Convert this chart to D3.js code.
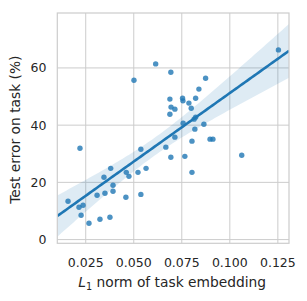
<!DOCTYPE html>
<html>
<head>
<meta charset="utf-8">
<script src="https://cdn.jsdelivr.net/npm/d3@7"></script>
<style>
  body { margin: 0; background: white; }
  svg { display: block; font-family: "DejaVu Sans", sans-serif; }
</style>
</head>
<body>
<div id="chart"></div>
<script>
// points: L1 norm of embedding vs test error (%)
const l1Norm = [
    0.0158, 0.0215, 0.0236, 0.0226, 0.0220, 0.0267, 0.0309, 0.0324, 0.0350, 0.0345,
    0.0380, 0.0392, 0.0392, 0.0376, 0.0461, 0.0475, 0.0459, 0.0501, 0.0522, 0.0537,
    0.0537, 0.0564, 0.0614, 0.0667, 0.0688, 0.0693, 0.0694, 0.0688, 0.0693, 0.0714,
    0.0714, 0.0754, 0.0756, 0.0757, 0.0766, 0.0787, 0.0799, 0.0803, 0.0803, 0.0822,
    0.0822, 0.0814, 0.0818, 0.0839, 0.0865, 0.0874, 0.0897, 0.0912, 0.1062, 0.1253
];
const testError = [
    13.4, 11.3, 12.0, 8.5, 31.9, 5.7, 15.5, 7.1, 16.2, 21.8,
    24.9, 19.0, 16.9, 7.8, 23.5, 22.1, 14.8, 55.7, 23.5, 31.6,
    15.8, 24.9, 61.4, 32.3, 49.1, 58.5, 46.3, 43.8, 28.8, 45.6,
    35.8, 49.4, 48.5, 40.7, 29.1, 47.7, 45.9, 34.4, 23.5, 49.4,
    42.8, 42.1, 38.6, 52.6, 40.3, 56.4, 35.1, 35.1, 29.5, 66.3
];
const xTicks = [0.025, 0.05, 0.075, 0.1, 0.125];
const yTicks = [0, 20, 40, 60];

const width = 307, height = 301;
const mLeft = 57.3, mRight = 289, mTop = 13, mBottom = 243.3;
const blue = "#1f77b4", grid = "#cccccc", ink = "#262626";
const tickSize = 12.5, labelSize = 13.8;

const svg = d3.select("#chart")
    .append("svg")
    .attr("width", width)
    .attr("height", height);

const x = d3.scaleLinear().domain([0.0102, 0.1308]).range([mLeft, mRight]);
const y = d3.scaleLinear().domain([-1.3, 79.2]).range([mBottom, mTop]);

// gridlines
svg.append("g")
    .selectAll("line")
    .data(xTicks)
    .join("line")
    .attr("x1", d => x(d)).attr("x2", d => x(d))
    .attr("y1", mTop).attr("y2", mBottom)
    .attr("stroke", grid).attr("stroke-width", 1);

svg.append("g")
    .selectAll("line")
    .data(yTicks)
    .join("line")
    .attr("x1", mLeft).attr("x2", mRight)
    .attr("y1", d => y(d)).attr("y2", d => y(d))
    .attr("stroke", grid).attr("stroke-width", 1);

// ordinary least squares + 95% CI of the mean
const pts = l1Norm.map((v, i) => ({x: v, y: testError[i]}));
const n = pts.length;
const mx = d3.mean(pts, d => d.x), my = d3.mean(pts, d => d.y);
const sxx = d3.sum(pts, d => (d.x - mx) ** 2);
const sxy = d3.sum(pts, d => (d.x - mx) * (d.y - my));
const slope = sxy / sxx, intercept = my - slope * mx;
const s = Math.sqrt(d3.sum(pts, d => (d.y - intercept - slope * d.x) ** 2) / (n - 2));
const tcrit = 2.01;

const [x0, x1] = x.domain();
const xs = d3.range(0, 101).map(i => x0 + i / 100 * (x1 - x0));
const fit = xs.map(v => {
    const yh = intercept + slope * v;
    const se = s * Math.sqrt(1 / n + (v - mx) ** 2 / sxx);
    return {x: v, y: yh, lo: yh - tcrit * se, hi: yh + tcrit * se};
});

svg.append("clipPath").attr("id", "clip")
    .append("rect")
    .attr("x", mLeft).attr("y", mTop)
    .attr("width", mRight - mLeft).attr("height", mBottom - mTop);

const inner = svg.append("g").attr("clip-path", "url(#clip)");

inner.append("path")
    .datum(fit)
    .attr("fill", blue)
    .attr("fill-opacity", 0.15)
    .attr("d", d3.area().x(d => x(d.x)).y0(d => y(d.lo)).y1(d => y(d.hi)));

inner.append("g")
    .selectAll("circle")
    .data(pts)
    .join("circle")
    .attr("cx", d => x(d.x))
    .attr("cy", d => y(d.y))
    .attr("r", 2.7)
    .attr("fill", blue)
    .attr("fill-opacity", 0.8);

inner.append("path")
    .datum(fit)
    .attr("fill", "none")
    .attr("stroke", blue)
    .attr("stroke-width", 2.6)
    .attr("d", d3.line().x(d => x(d.x)).y(d => y(d.y)));

// frame
svg.append("rect")
    .attr("x", mLeft).attr("y", mTop)
    .attr("width", mRight - mLeft).attr("height", mBottom - mTop)
    .attr("fill", "none")
    .attr("stroke", grid)
    .attr("stroke-width", 1.2);

// tick labels
svg.append("g")
    .selectAll("text")
    .data(xTicks)
    .join("text")
    .attr("x", d => x(d))
    .attr("y", 266.7)
    .attr("text-anchor", "middle")
    .attr("font-size", tickSize)
    .attr("fill", ink)
    .text(d3.format(".3f"));

svg.append("g")
    .selectAll("text")
    .data(yTicks)
    .join("text")
    .attr("x", 46.5)
    .attr("y", d => y(d))
    .attr("dy", "0.36em")
    .attr("text-anchor", "end")
    .attr("font-size", tickSize)
    .attr("fill", ink)
    .text(d => d);

// axis labels
const xl = svg.append("text")
    .attr("x", (mLeft + mRight) / 2 - 1)
    .attr("y", 286.7)
    .attr("text-anchor", "middle")
    .attr("font-size", labelSize)
    .attr("fill", ink);
xl.append("tspan").attr("font-style", "italic").text("L");
xl.append("tspan").attr("font-size", labelSize * 0.7).attr("dy", 2.8).text("1");
xl.append("tspan").attr("dy", -2.8).text(" norm of task embedding");

svg.append("text")
    .attr("transform", `translate(20,${(mTop + mBottom) / 2 + 1.5}) rotate(-90)`)
    .attr("text-anchor", "middle")
    .attr("font-size", labelSize)
    .attr("fill", ink)
    .text("Test error on task (%)");
</script>
</body>
</html>
